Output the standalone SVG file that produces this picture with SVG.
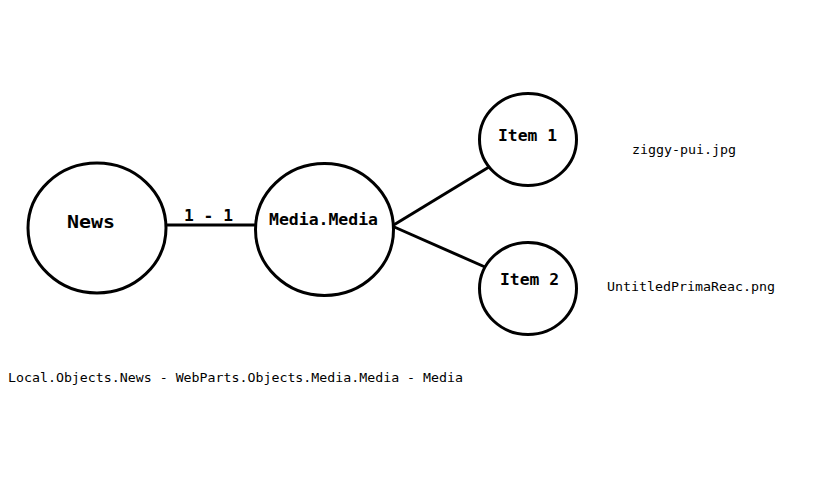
<svg xmlns="http://www.w3.org/2000/svg" width="816" height="500" viewBox="0 0 816 500">
<style>
.node{fill:#fff;stroke:#000;stroke-width:3}
.conn{stroke:#000;stroke-width:3;fill:none}
.lbl{font-family:"DejaVu Sans Mono","Liberation Mono",monospace;font-weight:bold;fill:#000}
.txt{font-family:"DejaVu Sans Mono","Liberation Mono",monospace;font-size:13px;fill:#000}
</style>
<rect width="816" height="500" fill="#fff"/>
<g id="connectors">
<line class="conn" x1="166" y1="225" x2="256" y2="225"/>
<line class="conn" x1="392" y1="226" x2="489" y2="167"/>
<line class="conn" x1="392" y1="226" x2="485" y2="267"/>
<text class="lbl" x="184" y="221" font-size="16" textLength="49" lengthAdjust="spacingAndGlyphs">1 - 1</text>
</g>
<g id="news">
<ellipse class="node" cx="97" cy="228" rx="69" ry="65"/>
<text class="lbl" x="67" y="228" font-size="18" textLength="48" lengthAdjust="spacingAndGlyphs">News</text>
</g>
<g id="media">
<ellipse class="node" cx="324.5" cy="229.5" rx="69" ry="66"/>
<text class="lbl" x="269" y="225" font-size="16" textLength="109" lengthAdjust="spacingAndGlyphs">Media.Media</text>
</g>
<g id="item1">
<ellipse class="node" cx="528" cy="139.5" rx="48.5" ry="46"/>
<text class="lbl" x="498" y="141" font-size="16" textLength="59" lengthAdjust="spacingAndGlyphs">Item 1</text>
</g>
<g id="item2">
<ellipse class="node" cx="528" cy="288.5" rx="48.5" ry="46"/>
<text class="lbl" x="500" y="285" font-size="16" textLength="59" lengthAdjust="spacingAndGlyphs">Item 2</text>
</g>
<text class="txt" x="632" y="154" textLength="104" lengthAdjust="spacingAndGlyphs">ziggy-pui.jpg</text>
<text class="txt" x="607" y="291" textLength="168" lengthAdjust="spacingAndGlyphs">UntitledPrimaReac.png</text>
<text class="txt" x="8" y="382" textLength="455" lengthAdjust="spacingAndGlyphs">Local.Objects.News - WebParts.Objects.Media.Media - Media</text>
</svg>
